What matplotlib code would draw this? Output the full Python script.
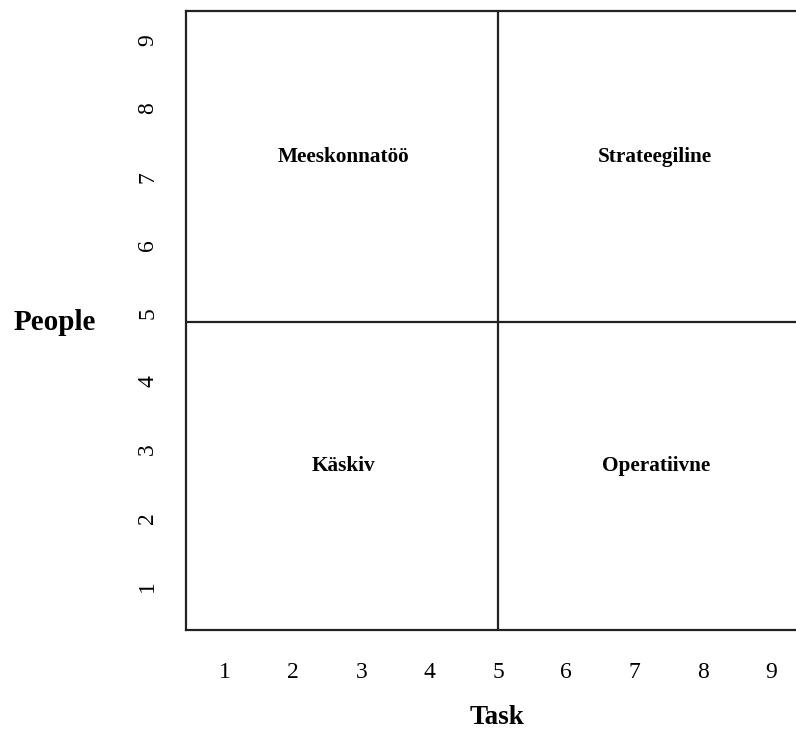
import matplotlib
matplotlib.use("Agg")
import matplotlib.pyplot as plt

x_ticks = [1, 2, 3, 4, 5, 6, 7, 8, 9]
y_ticks = [1, 2, 3, 4, 5, 6, 7, 8, 9]
x_divider = 5
y_divider = 4.87
quadrant_names = ["Meeskonnatöö", "Strateegiline", "Käskiv", "Operatiivne"]
quadrant_x = [2.73, 7.3, 2.74, 7.31]
quadrant_y = [7.29, 7.29, 2.76, 2.76]
x_label = "Task"
y_label = "People"

plt.rcParams['font.family'] = ['Liberation Serif', 'DejaVu Serif']

fig = plt.figure(figsize=(7.96, 7.34), dpi=100)
ax = fig.add_axes([186/796, 1 - 630/734, 1 - 186/796, (630 - 11)/734])
ax.set_xlim(0.43, 9.366)
ax.set_ylim(0.355, 9.43)

ax.spines['right'].set_visible(False)
for s in ['left', 'bottom', 'top']:
    ax.spines[s].set_linewidth(1.6)
    ax.spines[s].set_color('#222222')

ax.axvline(x_divider, color='#222222', lw=1.6)
ax.axhline(y_divider, color='#222222', lw=1.6)

ax.set_xticks(x_ticks)
ax.set_yticks(y_ticks)
ax.set_xticklabels([str(v) for v in x_ticks], fontsize=17)
ax.set_yticklabels([str(v) for v in y_ticks], fontsize=17, rotation=90, va='center')
ax.tick_params(axis='both', length=0)
ax.tick_params(axis='x', pad=23)
ax.tick_params(axis='y', pad=20)

for name, qx, qy in zip(quadrant_names, quadrant_x, quadrant_y):
    ax.text(qx, qy, name, ha='center', va='center', fontsize=15.3, fontweight='bold')

fig.text(497/796, 1 - 718/734, x_label, ha='center', va='center', fontsize=19.5, fontweight='bold')
fig.text(55/796, 1 - 323/734, y_label, ha='center', va='center', fontsize=21, fontweight='bold')

fig.savefig("out.png", dpi=100)
